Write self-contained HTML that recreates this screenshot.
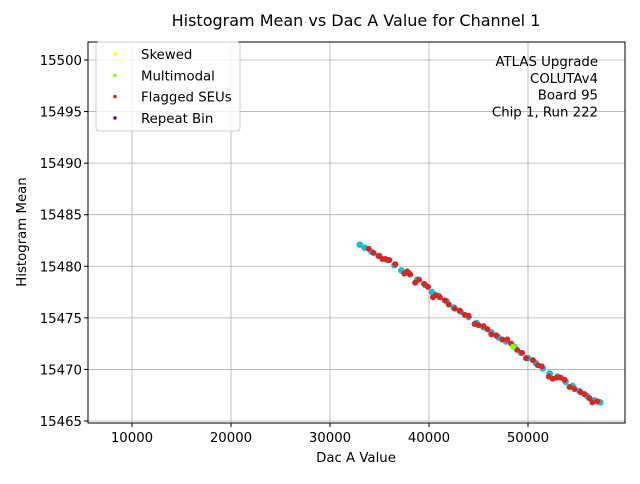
<!DOCTYPE html>
<html><head><meta charset="utf-8"><style>
body{margin:0;background:#fff;font-family:"DejaVu Sans","Liberation Sans",sans-serif}
svg text{font-family:"DejaVu Sans","Liberation Sans",sans-serif}
</style></head><body>
<svg id="c" width="640" height="480" xmlns="http://www.w3.org/2000/svg">
<rect width="640" height="480" fill="#fff"/>
<g id="grid"></g><g id="marks"></g><g id="axes"></g>
</svg>
<script>
const xTicks=[10000,20000,30000,40000,50000];
const yTicks=[15465,15470,15475,15480,15485,15490,15495,15500];
const cyanX=[33000,33500,34200,35000,35800,36500,37200,38000,38800,39600,40300,41000,41800,42500,43200,44000,44800,45500,46300,47000,47800,48600,49300,50000,50800,51500,52200,53000,53800,54500,55200,56000,56700,57300];
const cyanY=[15482.1,15481.8,15481.4,15481.0,15480.6,15480.1,15479.6,15479.3,15478.7,15478.2,15477.5,15477.1,15476.6,15476.0,15475.6,15475.1,15474.5,15474.1,15473.6,15473.1,15472.7,15472.2,15471.6,15471.1,15470.6,15470.1,15469.6,15469.3,15468.8,15468.4,15467.9,15467.4,15467.0,15466.8];
const redX=[33900,34400,34900,35300,35600,36000,36600,37500,37800,38100,38600,39000,39500,39900,40400,40700,41100,41600,42000,42600,43100,43600,44000,44600,45000,45500,45900,46300,46800,47400,47900,48300,48900,49400,49800,50500,51000,51400,52100,52500,52900,53300,53700,54200,54700,55300,55700,56200,56500,57000];
const redY=[15481.7,15481.3,15481.0,15480.7,15480.7,15480.6,15480.2,15479.3,15479.5,15479.2,15478.4,15478.7,15478.3,15478.0,15477.0,15477.2,15477.0,15476.7,15476.3,15475.9,15475.7,15475.3,15475.2,15474.4,15474.3,15474.2,15473.9,15473.4,15473.3,15472.9,15472.9,15472.5,15471.9,15471.6,15471.1,15470.9,15470.4,15470.3,15469.3,15469.1,15469.2,15469.2,15469.0,15468.3,15468.1,15467.8,15467.6,15467.2,15466.8,15466.9];
const greenX=[48500], greenY=[15472.2];
const skewX=[8400,8900], skewY=[15500.6,15499.9];
const legendLabels=["Skewed","Multimodal","Flagged SEUs","Repeat Bin"];
const legendColors=["#ffff00","#7fff00","#d62728","#800080"];
const annot=["ATLAS Upgrade","COLUTAv4","Board 95","Chip 1, Run 222"];

const L=88,R=625,T=42,B=423;
const sx=v=>33+v*0.0099;
const sy=v=>60+(15500-v)*10.314;
const NS="http://www.w3.org/2000/svg";
function mk(tag,attrs,parent,txt){const e=document.createElementNS(NS,tag);for(const k in attrs)e.setAttribute(k,attrs[k]);if(txt!==undefined)e.textContent=txt;parent.appendChild(e);return e;}
const grid=document.getElementById('grid'),marks=document.getElementById('marks'),axes=document.getElementById('axes');
xTicks.forEach(t=>{const g=mk('line',{x1:sx(t),x2:sx(t),y1:T,y2:B,stroke:'#b0b0b0','stroke-width':0.8},grid);


mk('line',{x1:sx(t),x2:sx(t),y1:B,y2:B+4,stroke:'#000'},axes);
const l=mk('text',{x:sx(t),y:B+19,'font-size':13.3,'text-anchor':'middle'},axes,String(t));

});
yTicks.forEach(t=>{const g=mk('line',{x1:L,x2:R,y1:sy(t),y2:sy(t),stroke:'#b0b0b0','stroke-width':0.8},grid);


mk('line',{x1:L-4,x2:L,y1:sy(t),y2:sy(t),stroke:'#000'},axes);
const l=mk('text',{x:L-6,y:sy(t)+5,'font-size':13.3,'text-anchor':'end'},axes,String(t));

});
function pts(xs,ys,col,r,name){xs.forEach((x,i)=>{const c=mk('circle',{cx:sx(x),cy:sy(ys[i]),r:r,fill:col},marks);

});}
pts(cyanX,cyanY,'#17becf',3.3,'data-point');
pts(redX,redY,'#d62728',3,'flagged-seu-point');
pts(greenX,greenY,'#7fff00',3,'multimodal-point');
pts(skewX,skewY,'#ffff00',3,'skewed-outlier-point');
const fr=mk('rect',{x:L,y:T,width:R-L,height:B-T,fill:'none',stroke:'#000','stroke-width':1},axes);


const title=mk('text',{x:356,y:26,'font-size':16,'text-anchor':'middle'},axes,'Histogram Mean vs Dac A Value for Channel 1');


const xt=mk('text',{x:356,y:462,'font-size':13.3,'text-anchor':'middle'},axes,'Dac A Value');


const yt=mk('text',{x:26,y:232,'font-size':13.3,'text-anchor':'middle',transform:'rotate(-90 26 232)'},axes,'Histogram Mean');


const lb=mk('rect',{x:96,y:42,width:144,height:89,rx:3,fill:'#fff','fill-opacity':0.8,stroke:'#ccc'},axes);


legendLabels.forEach((s,i)=>{const y=54+i*21.3;
const d=mk('circle',{cx:115,cy:y,r:1.8,fill:legendColors[i]},axes);


const t=mk('text',{x:141,y:y+5,'font-size':13.3},axes,s);

});
annot.forEach((s,i)=>{const t=mk('text',{x:598,y:66+i*16.8,'font-size':13.3,'text-anchor':'end'},axes,s);

});
</script>
</body></html>
